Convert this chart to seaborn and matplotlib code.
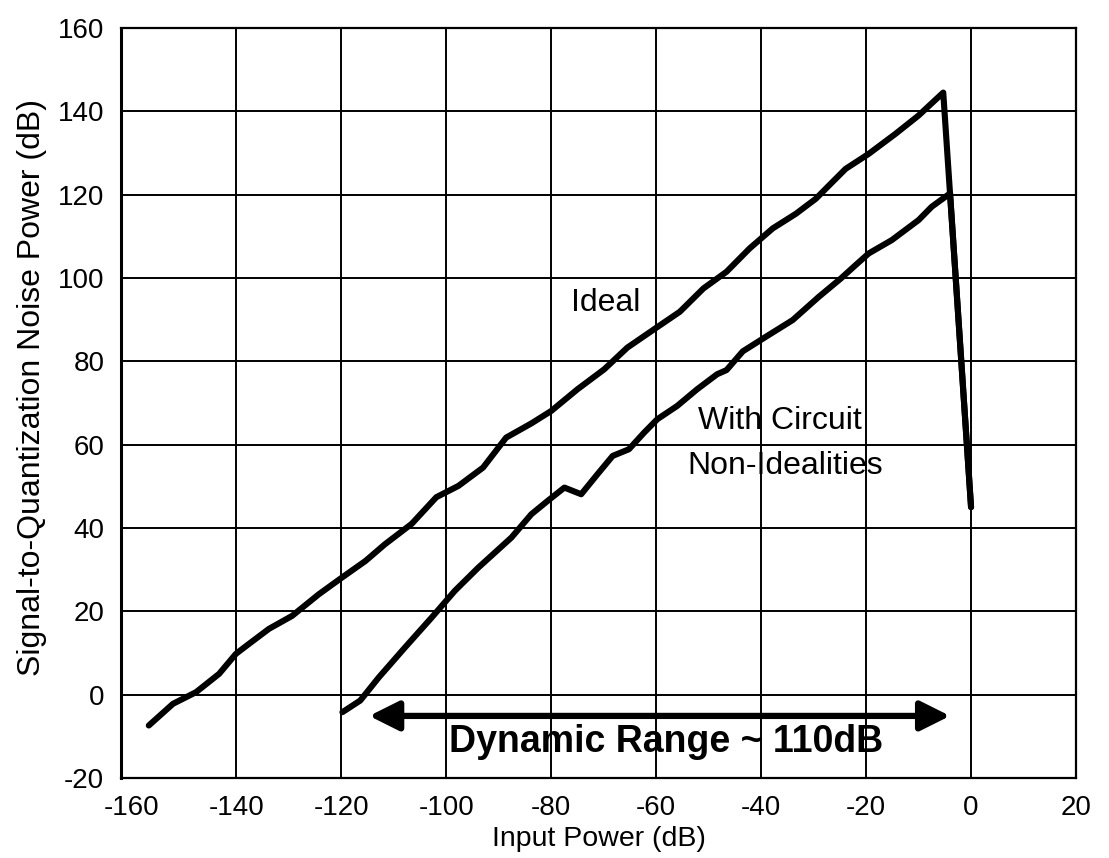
import matplotlib
matplotlib.use("Agg")
import matplotlib.pyplot as plt
import seaborn as sns
import pandas as pd

# ---- data ----
ideal_x = [-156.7, -152.1, -147.7, -143.3, -140.1, -137.6, -133.8, -129.4, -124.3,
           -119.9, -115.4, -111.7, -106.6, -101.9, -97.7, -93.0, -90.8, -88.6,
           -83.8, -80.0, -75.0, -69.9, -65.5, -60.4, -55.5, -51.0, -46.6, -42.2,
           -37.8, -33.4, -29.6, -27.0, -23.9, -19.5, -14.4, -10.0, -5.3, 0.0]
ideal_y = [-7.4, -2.2, 0.6, 5.0, 9.8, 12.2, 15.8, 18.9, 24.1,
           28.1, 32.1, 36.1, 41.0, 47.4, 50.1, 54.5, 58.1, 61.7,
           65.1, 68.1, 73.3, 78.1, 83.3, 87.7, 91.9, 97.5, 101.5, 107.1,
           111.9, 115.4, 119.0, 122.3, 126.2, 129.8, 134.6, 139.0, 144.5, 45.0]

nonideal_x = [-119.8, -116.4, -112.9, -107.9, -102.8, -98.4, -93.9, -87.6, -83.8,
              -80.7, -77.5, -74.3, -71.2, -68.3, -65.2, -62.3, -59.8, -56.0,
              -52.2, -48.4, -46.6, -43.5, -39.1, -34.0, -29.0, -24.8, -22.0,
              -19.5, -15.1, -10.0, -7.5, -4.0, 0.0]
nonideal_y = [-4.2, -1.4, 4.1, 11.3, 18.5, 24.9, 30.5, 37.7, 43.3,
              46.5, 49.7, 48.1, 52.9, 57.3, 58.9, 62.9, 66.1, 69.3,
              73.3, 76.9, 77.9, 82.4, 85.9, 89.9, 95.5, 99.9, 103.1,
              105.9, 109.1, 113.9, 117.1, 120.3, 45.0]

x_ticks = [-160, -140, -120, -100, -80, -60, -40, -20, 0, 20]
y_ticks = [-20, 0, 20, 40, 60, 80, 100, 120, 140, 160]

range_start, range_end = -114.7, -4.0
range_level = -5.1

df = pd.concat([
    pd.DataFrame({"x": ideal_x, "y": ideal_y, "series": "Ideal", "order": range(len(ideal_x))}),
    pd.DataFrame({"x": nonideal_x, "y": nonideal_y, "series": "With Circuit Non-Idealities",
                  "order": range(len(nonideal_x))}),
])

sns.set_theme(style="white")
plt.rcParams["font.family"] = ["Liberation Sans", "DejaVu Sans"]
plt.rcParams["text.color"] = "black"
plt.rcParams["axes.labelcolor"] = "black"

fig = plt.figure(figsize=(11.09, 8.58), dpi=100)
ax = fig.add_axes([121 / 1109, 1 - 778 / 858, (1076 - 121) / 1109, (778 - 28) / 858])

sns.lineplot(data=df, x="x", y="y", units="series", estimator=None, sort=False,
             color="black", linewidth=4.4, ax=ax, zorder=3)

ax.set_xlim(-162, 20)
ax.set_ylim(-20, 160)
ax.set_xticks(x_ticks)
ax.set_yticks(y_ticks)
ax.set_xticklabels([str(v) for v in x_ticks])
ax.set_yticklabels([str(v) for v in y_ticks])
ax.tick_params(axis="both", length=0, labelsize=20, colors="black")
ax.tick_params(axis="x", pad=12)
ax.tick_params(axis="y", pad=12)

ax.set_axisbelow(False)
ax.grid(True, color="black", linewidth=1.4)
ax.get_xgridlines()[0].set_visible(False)
for s in ax.spines.values():
    s.set_color("black")
    s.set_linewidth(1.6)
ax.spines["left"].set_linewidth(2.2)

ax.set_xlabel("Input Power (dB)", fontsize=20.5, color="black", labelpad=4)
ax.set_ylabel("Signal-to-Quantization Noise Power (dB)", fontsize=23, color="black", labelpad=8)
ax.yaxis.label.set_y(0.521)

ax.text(-69.7, 92.0, "Ideal", fontsize=23, color="black", ha="center", va="baseline", zorder=1)
ax.text(-36.4, 63.7, "With Circuit", fontsize=23, color="black", ha="center", va="baseline", zorder=1)
ax.text(-35.5, 52.9, "Non-Idealities", fontsize=23, color="black", ha="center", va="baseline", zorder=1)
ax.text(-58.1, -13.7, "Dynamic Range ~ 110dB", fontsize=27, fontweight="bold", color="black",
        ha="center", va="baseline", zorder=1)

ax.annotate("", xy=(range_end, range_level), xytext=(range_start, range_level),
            arrowprops=dict(arrowstyle="<|-|>,head_length=0.9,head_width=0.45",
                            mutation_scale=20, lw=4.5, color="black",
                            shrinkA=0, shrinkB=0), zorder=4)

fig.savefig("out.png", dpi=100)
